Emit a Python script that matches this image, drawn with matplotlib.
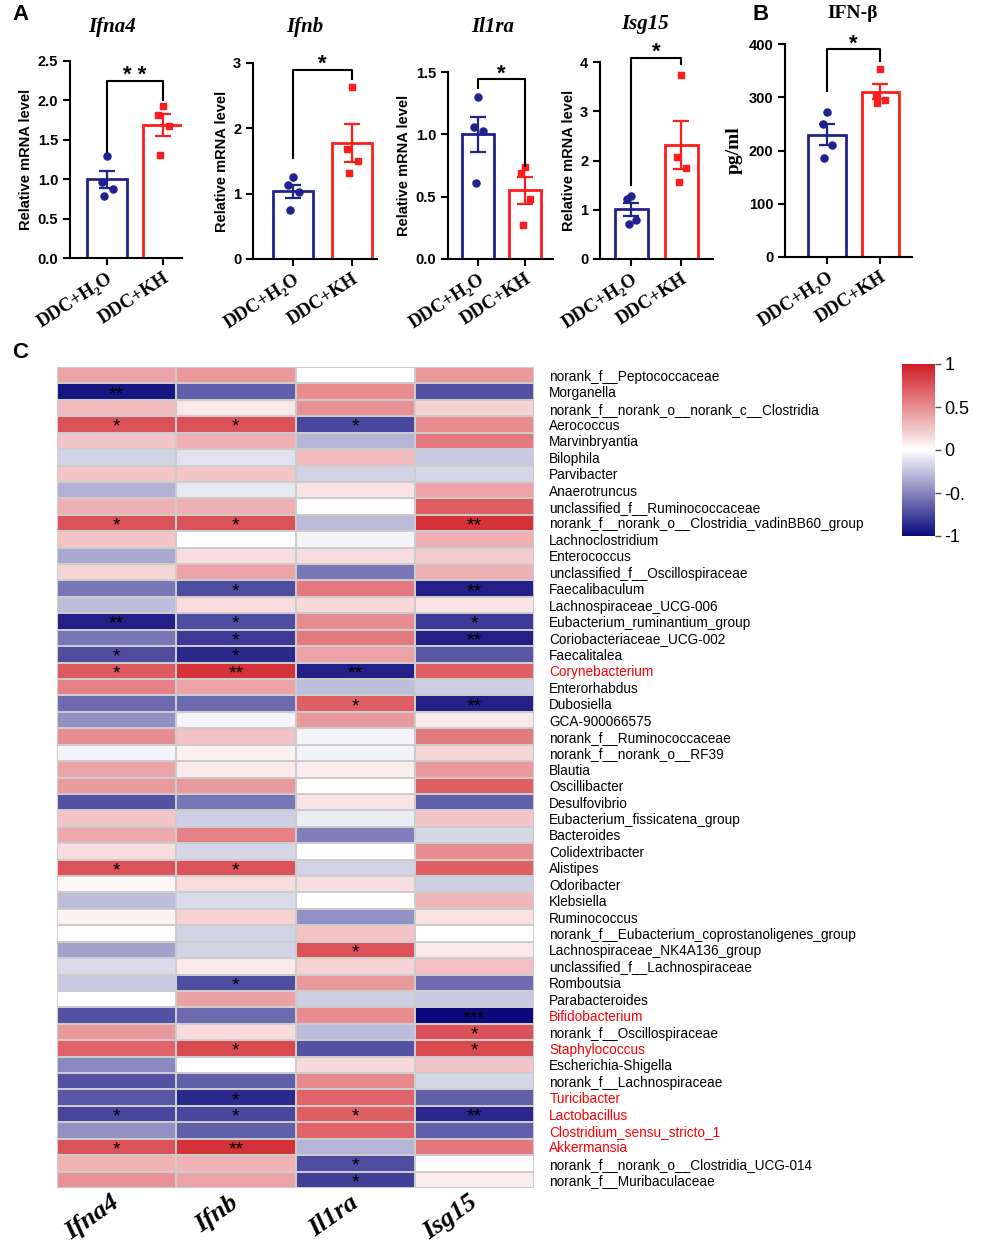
import numpy as np
import matplotlib
matplotlib.use("Agg")
import matplotlib.pyplot as plt
from matplotlib.colors import LinearSegmentedColormap

plt.rcParams['font.family'] = ['Liberation Sans', 'DejaVu Sans']
SERIF = ['Liberation Serif', 'DejaVu Serif']

# ---------------- panel A / B data ----------------
genes = ['Ifna4', 'Ifnb', 'Il1ra', 'Isg15']
groups = ['DDC+H₂O', 'DDC+KH']

bar_means = {'Ifna4': [1.00, 1.69], 'Ifnb': [1.04, 1.78], 'Il1ra': [1.00, 0.55],
             'Isg15': [1.01, 2.32], 'IFN-β': [230, 310]}
bar_sems = {'Ifna4': [0.11, 0.14], 'Ifnb': [0.10, 0.29], 'Il1ra': [0.14, 0.11],
            'Isg15': [0.13, 0.49], 'IFN-β': [19, 14]}
h2o_points = {'Ifna4': [1.30, 0.96, 0.87, 0.79], 'Ifnb': [1.26, 1.13, 1.02, 0.75],
              'Il1ra': [1.30, 1.06, 1.03, 0.61], 'Isg15': [1.27, 1.21, 0.79, 0.71],
              'IFN-β': [273, 250, 211, 186]}
kh_points = {'Ifna4': [1.93, 1.82, 1.67, 1.31], 'Ifnb': [2.63, 1.69, 1.50, 1.31],
             'Il1ra': [0.74, 0.69, 0.48, 0.27], 'Isg15': [3.74, 2.08, 1.84, 1.57],
             'IFN-β': [353, 304, 295, 290]}
jitter = [0.0, -0.08, 0.1, -0.05]
y_max = {'Ifna4': 2.5, 'Ifnb': 3, 'Il1ra': 1.5, 'Isg15': 4, 'IFN-β': 400}
y_ticks = {'Ifna4': [0, 0.5, 1.0, 1.5, 2.0, 2.5], 'Ifnb': [0, 1, 2, 3],
           'Il1ra': [0, 0.5, 1.0, 1.5], 'Isg15': [0, 1, 2, 3, 4],
           'IFN-β': [0, 100, 200, 300, 400]}
y_fmt = {'Ifna4': '{:.1f}', 'Ifnb': '{:.0f}', 'Il1ra': '{:.1f}', 'Isg15': '{:.0f}',
         'IFN-β': '{:.0f}'}
# bracket: height, left leg end, right leg end, label
brackets = {'Ifna4': (2.25, 1.35, 2.0, '* *'), 'Ifnb': (2.9, 1.54, 2.76, '*'),
            'Il1ra': (1.44, 1.37, 0.75, '*'), 'Isg15': (4.09, 1.5, 3.95, '*'),
            'IFN-β': (390, 311, 368, '*')}

# ---------------- panel C data ----------------
genera = [
    'norank_f__Peptococcaceae', 'Morganella', 'norank_f__norank_o__norank_c__Clostridia',
    'Aerococcus', 'Marvinbryantia', 'Bilophila', 'Parvibacter', 'Anaerotruncus',
    'unclassified_f__Ruminococcaceae', 'norank_f__norank_o__Clostridia_vadinBB60_group',
    'Lachnoclostridium', 'Enterococcus', 'unclassified_f__Oscillospiraceae',
    'Faecalibaculum', 'Lachnospiraceae_UCG-006', 'Eubacterium_ruminantium_group',
    'Coriobacteriaceae_UCG-002', 'Faecalitalea', 'Corynebacterium', 'Enterorhabdus',
    'Dubosiella', 'GCA-900066575', 'norank_f__Ruminococcaceae', 'norank_f__norank_o__RF39',
    'Blautia', 'Oscillibacter', 'Desulfovibrio', 'Eubacterium_fissicatena_group',
    'Bacteroides', 'Colidextribacter', 'Alistipes', 'Odoribacter', 'Klebsiella',
    'Ruminococcus', 'norank_f__Eubacterium_coprostanoligenes_group',
    'Lachnospiraceae_NK4A136_group', 'unclassified_f__Lachnospiraceae', 'Romboutsia',
    'Parabacteroides', 'Bifidobacterium', 'norank_f__Oscillospiraceae', 'Staphylococcus',
    'Escherichia-Shigella', 'norank_f__Lachnospiraceae', 'Turicibacter', 'Lactobacillus',
    'Clostridium_sensu_stricto_1', 'Akkermansia', 'norank_f__norank_o__Clostridia_UCG-014',
    'norank_f__Muribaculaceae']
red_genera = ['Corynebacterium', 'Bifidobacterium', 'Staphylococcus', 'Turicibacter',
              'Lactobacillus', 'Clostridium_sensu_stricto_1', 'Akkermansia']

r_ifna4 = [0.40, -0.95, 0.30, 0.75, 0.25, -0.18, 0.25, -0.32, 0.35, 0.75,
           0.25, -0.35, 0.18, -0.55, -0.27, -0.90, -0.55, -0.72, 0.72, 0.55,
           -0.60, -0.45, 0.50, -0.05, 0.40, 0.45, -0.70, 0.25, 0.38, 0.15,
           0.75, 0.04, -0.27, 0.06, 0.00, -0.38, -0.15, -0.22, 0.00, -0.70,
           0.45, 0.68, -0.48, -0.70, -0.68, -0.75, -0.45, 0.75, 0.33, 0.48]
r_ifnb = [0.45, -0.65, 0.10, 0.75, 0.35, -0.12, 0.25, -0.10, 0.35, 0.75,
          0.00, 0.15, 0.40, -0.72, 0.15, -0.72, -0.80, -0.87, 0.90, 0.40,
          -0.60, -0.05, 0.27, 0.07, 0.10, 0.45, -0.55, -0.20, 0.55, -0.17,
          0.75, 0.15, -0.15, 0.20, -0.18, -0.18, 0.10, -0.72, 0.42, -0.60,
          0.15, 0.80, 0.01, -0.65, -0.87, -0.75, -0.65, 0.90, 0.33, 0.40]
r_il1ra = [0.00, 0.50, 0.48, -0.75, -0.30, 0.30, -0.18, 0.12, 0.01, -0.28,
           -0.05, 0.15, -0.55, 0.58, 0.17, 0.50, 0.58, 0.40, -0.90, -0.27,
           0.70, 0.45, -0.05, -0.06, 0.08, 0.00, 0.12, -0.08, -0.52, 0.00,
           -0.18, 0.15, 0.00, -0.45, 0.27, 0.75, 0.20, 0.45, -0.20, 0.50,
           -0.28, -0.70, 0.17, 0.52, 0.68, 0.70, 0.68, -0.30, -0.72, -0.78]
r_isg15 = [0.45, -0.70, 0.20, 0.50, 0.58, -0.22, -0.17, 0.40, 0.70, 0.90,
           0.35, 0.22, 0.35, -0.90, 0.12, -0.80, -0.90, -0.68, 0.70, -0.20,
           -0.90, 0.10, 0.58, 0.18, 0.45, 0.70, -0.65, 0.25, -0.17, 0.50,
           0.70, -0.20, 0.32, 0.14, 0.00, 0.10, 0.28, -0.60, -0.22, -1.00,
           0.75, 0.80, 0.25, -0.17, -0.65, -0.88, -0.65, 0.60, 0.00, 0.08]

stars_ifna4 = {'Morganella': '**', 'Aerococcus': '*',
               'norank_f__norank_o__Clostridia_vadinBB60_group': '*',
               'Eubacterium_ruminantium_group': '**', 'Faecalitalea': '*',
               'Corynebacterium': '*', 'Alistipes': '*', 'Lactobacillus': '*',
               'Akkermansia': '*'}
stars_ifnb = {'Aerococcus': '*', 'norank_f__norank_o__Clostridia_vadinBB60_group': '*',
              'Faecalibaculum': '*', 'Eubacterium_ruminantium_group': '*',
              'Coriobacteriaceae_UCG-002': '*', 'Faecalitalea': '*',
              'Corynebacterium': '**', 'Alistipes': '*', 'Romboutsia': '*',
              'Staphylococcus': '*', 'Turicibacter': '*', 'Lactobacillus': '*',
              'Akkermansia': '**'}
stars_il1ra = {'Aerococcus': '*', 'Corynebacterium': '**', 'Dubosiella': '*',
               'Lachnospiraceae_NK4A136_group': '*', 'Lactobacillus': '*',
               'norank_f__norank_o__Clostridia_UCG-014': '*',
               'norank_f__Muribaculaceae': '*'}
stars_isg15 = {'norank_f__norank_o__Clostridia_vadinBB60_group': '**',
               'Faecalibaculum': '**', 'Eubacterium_ruminantium_group': '*',
               'Coriobacteriaceae_UCG-002': '**', 'Dubosiella': '**',
               'Bifidobacterium': '***', 'norank_f__Oscillospiraceae': '*',
               'Staphylococcus': '*', 'Lactobacillus': '**'}

BLUE = '#22228e'
RED = '#ff1c1c'
W, H = 996, 1243

fig = plt.figure(figsize=(W / 100, H / 100), dpi=100)


def px_axes(x0, y0, x1, y1):
    # pixel box (top-left origin) -> figure axes
    return fig.add_axes([x0 / W, 1 - y1 / H, (x1 - x0) / W, (y1 - y0) / H])


# pixel boxes, x limits, bar width, title centre (px)
bar_layout = {
    'Ifna4': ((70, 61, 182, 258), (-0.66, 1.34), 0.70, (112, 27)),
    'Ifnb': ((253, 63, 377, 259), (-0.68, 1.42), 0.68, (305, 27)),
    'Il1ra': ((448, 72, 553, 259), (-0.64, 1.60), 0.68, (493, 27)),
    'Isg15': ((600, 62, 713, 259), (-0.62, 1.64), 0.66, (645, 24)),
    'IFN-β': ((785, 44, 912, 257), (-0.79, 1.60), 0.70, (853, 14)),
}

for name, (box, xlim, bw, tpos) in bar_layout.items():
    ax = px_axes(*box)
    means = bar_means[name]
    sems = bar_sems[name]
    cols = [BLUE, RED]
    for i in range(2):
        ax.bar(i, means[i], width=bw, facecolor='white', edgecolor=cols[i], linewidth=2.0,
               zorder=2)
        ax.errorbar(i, means[i], yerr=sems[i], color=cols[i], capsize=6, elinewidth=1.6,
                    capthick=1.6, zorder=4)
    ax.scatter(np.zeros(4) + jitter, h2o_points[name], s=26, marker='o', color=BLUE,
               zorder=5, clip_on=False)
    ax.scatter(np.ones(4) + jitter, kh_points[name], s=24, marker='s', color=RED,
               zorder=5, clip_on=False)

    hb, l0, r0, lab = brackets[name]
    ax.plot([0, 0, 1, 1], [l0, hb, hb, r0], color='black', lw=1.5, clip_on=False, zorder=6)
    ax.annotate(lab, (0.5, hb), xytext=(0, -4), textcoords='offset points', ha='center',
                va='bottom', fontsize=16, fontweight='bold', annotation_clip=False)

    ax.set_xlim(*xlim)
    ax.set_ylim(0, y_max[name])
    ax.set_yticks(y_ticks[name])
    ax.set_yticklabels([y_fmt[name].format(t) for t in y_ticks[name]], fontsize=10.5,
                       fontweight='bold')
    ax.set_xticks([0, 1])
    ax.set_xticklabels(groups, rotation=33, ha='right', rotation_mode='anchor',
                       fontsize=13.5, fontweight='bold', family=SERIF)
    for s in ['top', 'right']:
        ax.spines[s].set_visible(False)
    for s in ['left', 'bottom']:
        ax.spines[s].set_linewidth(1.5)
    ax.tick_params(width=1.5, length=5)
    if name == 'IFN-β':
        ax.set_ylabel('pg/ml', fontsize=14, fontweight='bold', family=SERIF, labelpad=4)
        fig.text(tpos[0] / W, 1 - tpos[1] / H, name, fontsize=14, fontweight='bold',
                 family=SERIF, ha='center', va='center')
    else:
        ax.set_ylabel('Relative mRNA level', fontsize=10.5, fontweight='bold', labelpad=3)
        fig.text(tpos[0] / W, 1 - tpos[1] / H, name, fontsize=15, fontweight='bold',
                 style='italic', family=SERIF, ha='center', va='center')

# ---------------- heatmap ----------------
cmap = LinearSegmentedColormap.from_list('bwr_c', ['#0c0a7c', '#ffffff', '#d01c24'])
mat = np.array([r_ifna4, r_ifnb, r_il1ra, r_isg15]).T
star_cols = [stars_ifna4, stars_ifnb, stars_il1ra, stars_isg15]

axh = px_axes(57, 367, 534, 1188)
mesh = axh.pcolormesh(np.arange(5), np.arange(51), mat, cmap=cmap, vmin=-1, vmax=1,
                      edgecolors='#cccccc', linewidth=1.3)
axh.set_xlim(0, 4)
axh.set_ylim(50, 0)
for j, sd in enumerate(star_cols):
    for i, g in enumerate(genera):
        if g in sd:
            axh.text(j + 0.5, i + 0.95, sd[g], ha='center', va='baseline', fontsize=14,
                     color='black')
for s in axh.spines.values():
    s.set_visible(False)
axh.yaxis.tick_right()
axh.set_yticks(np.arange(50) + 0.5)
axh.set_yticklabels(genera, fontsize=9.8)
for t in axh.get_yticklabels():
    if t.get_text() in red_genera:
        t.set_color('red')
axh.set_xticks(np.arange(4) + 0.45)
axh.set_xticklabels(genes, rotation=35, ha='right', rotation_mode='anchor', fontsize=19,
                    fontweight='bold', style='italic', family=SERIF)
axh.tick_params(length=0, pad=11, axis='y')
axh.tick_params(length=0, pad=2, axis='x')

cax = px_axes(902, 364, 935, 536)
cb = fig.colorbar(mesh, cax=cax)
cb.outline.set_visible(False)
cb.set_ticks([1, 0.5, 0, -0.5, -1])
cb.set_ticklabels(['1', '0.5', '0', '-0.', '-1'])
cax.tick_params(labelsize=13, length=4, width=1, color='#555555', pad=3)

# panel letters
fig.text(12 / W, 1 - 14 / H, 'A', fontsize=16, fontweight='bold', va='center')
fig.text(752 / W, 1 - 14 / H, 'B', fontsize=16, fontweight='bold', va='center')
fig.text(12 / W, 1 - 352 / H, 'C', fontsize=16, fontweight='bold', va='center')

fig.savefig('out.png', dpi=100)
